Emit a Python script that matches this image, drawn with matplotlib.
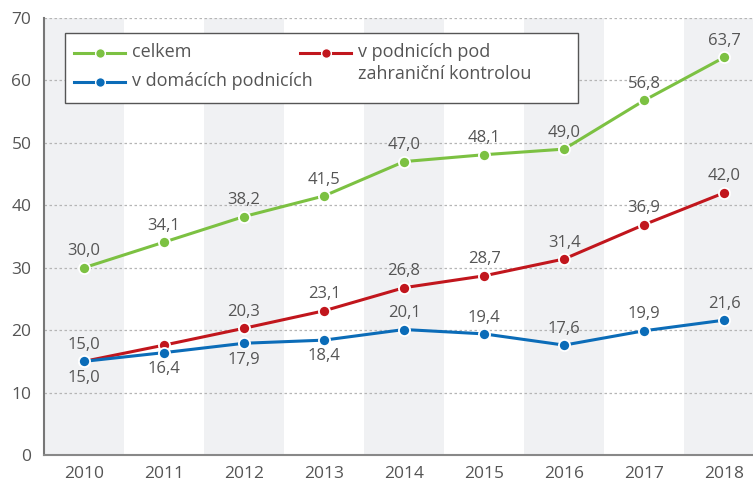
import matplotlib
matplotlib.use("Agg")
import matplotlib.pyplot as plt
from matplotlib.lines import Line2D
from matplotlib.patches import Rectangle

years = ["2010", "2011", "2012", "2013", "2014", "2015", "2016", "2017", "2018"]
celkem = [30.0, 34.1, 38.2, 41.5, 47.0, 48.1, 49.0, 56.8, 63.7]
zahranicni = [15.0, 17.6, 20.3, 23.1, 26.8, 28.7, 31.4, 36.9, 42.0]
domaci = [15.0, 16.4, 17.9, 18.4, 20.1, 19.4, 17.6, 19.9, 21.6]
labels_zahr = [True, False, True, True, True, True, True, True, True]
domaci_below = [True, True, True, True, False, False, False, False, False]
yticks = [0, 10, 20, 30, 40, 50, 60, 70]
series_names = ['celkem', 'v domácích podnicích', 'v podnicích pod\nzahraniční kontrolou']

plt.rcParams['font.family'] = ['Open Sans', 'DejaVu Sans']
TXT = '#555555'
GREEN = '#7cc142'
RED = '#c1161d'
BLUE = '#0b6cb8'
W, H = 753, 486

fig = plt.figure(figsize=(W/100, H/100), dpi=100)
ax = fig.add_axes([44/W, 1-455/H, 709/W, 437/H])

x = list(range(len(years)))
for i in x:
    if i % 2 == 0:
        ax.axvspan(i-0.5, i+0.5, color='#f0f1f3', zorder=0, lw=0)

for v in yticks[1:]:
    ax.axhline(v, color='#b5b5b5', lw=0.9, ls=(0, (2, 2)), zorder=1)

kw = dict(lw=2.2, marker='o', ms=8, mec='white', mew=1.3, zorder=3, clip_on=False)
ax.plot(x, celkem, color=GREEN, **kw)
ax.plot(x, zahranicni, color=RED, **kw)
ax.plot(x, domaci, color=BLUE, **kw)

def fmt(v):
    return f"{v:.1f}".replace('.', ',')

fs = 12
def lab(i, v, below=False):
    ax.annotate(fmt(v), (i, v), xytext=(0, -6 if below else 6), textcoords='offset points',
                ha='center', va='top' if below else 'bottom', fontsize=fs, color=TXT, zorder=4)

for i, v in enumerate(celkem):
    lab(i, v)
for i, v in enumerate(zahranicni):
    if labels_zahr[i]:
        lab(i, v)
for i, v in enumerate(domaci):
    lab(i, v, domaci_below[i])

ax.set_xlim(-0.5, 8.36)
ax.set_ylim(0, 70)
ax.set_xticks(x)
ax.set_xticklabels(years)
ax.set_yticks(yticks)
ax.tick_params(axis='both', length=0, labelsize=12.5, colors=TXT)
ax.tick_params(axis='x', pad=8)
ax.tick_params(axis='y', pad=9)
for s in ['top', 'right']:
    ax.spines[s].set_visible(False)
ax.spines['left'].set_color('#777777')
ax.spines['left'].set_linewidth(1.5)
ax.spines['bottom'].set_color('#888888')
ax.spines['bottom'].set_linewidth(1.5)

# manual legend (figure pixel coordinates)
def fx(px):
    return px / W
def fy(py):
    return 1 - py / H

fig.patches.append(Rectangle((fx(65), fy(103)), fx(578) - fx(65), fy(33) - fy(103),
                             transform=fig.transFigure, fill=True, facecolor='white',
                             edgecolor='#555555', lw=1.0, zorder=5))
leg_items = [(GREEN, 74, 53, series_names[0]),
             (BLUE, 74, 82, series_names[1]),
             (RED, 300, 53, series_names[2])]
for col, x0, yc, name in leg_items:
    fig.add_artist(Line2D([fx(x0), fx(x0 + 51)], [fy(yc), fy(yc)], color=col, lw=2.2,
                          transform=fig.transFigure, zorder=6))
    fig.add_artist(Line2D([fx(x0 + 25.5)], [fy(yc)], color=col, marker='o', ms=7,
                          mec='white', mew=1.0, transform=fig.transFigure, zorder=7))
    fig.text(fx(x0 + 58), fy(yc - 10), name, ha='left', va='top', fontsize=13,
             color=TXT, linespacing=1.3, zorder=8)

fig.savefig('out.png', dpi=100)
